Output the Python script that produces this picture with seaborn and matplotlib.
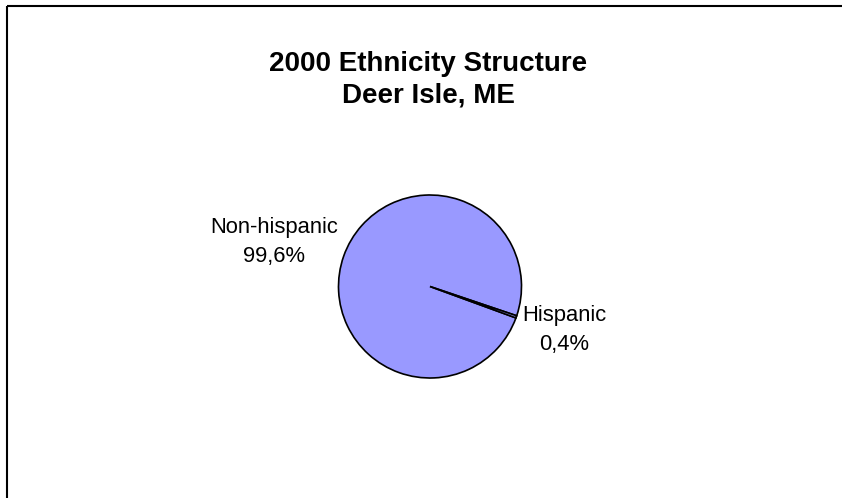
import matplotlib
matplotlib.use("Agg")
import matplotlib.pyplot as plt
from matplotlib.lines import Line2D
import seaborn as sns

# Data
categories = ["Non-hispanic", "Hispanic"]
shares = [99.6, 0.4]
value_labels = ["99,6%", "0,4%"]
title_lines = ["2000 Ethnicity Structure", "Deer Isle, ME"]

sns.set_theme(style="white")
plt.rcParams["font.family"] = ["Liberation Sans", "DejaVu Sans"]

W, H = 842, 498
fig = plt.figure(figsize=(W / 100, H / 100), dpi=100)
fig.patch.set_facecolor("white")

# pie axes placed in pixels
cx, cy, r = 430, 286.5, 91.5
ax = fig.add_axes([(cx - r) / W, (H - cy - r) / H, 2 * r / W, 2 * r / H])
colors = ["#9999FF", "#9999FF"]
wedges, texts = ax.pie(
    shares,
    labels=[f"{c}\n{v}" for c, v in zip(categories, value_labels)],
    colors=colors,
    startangle=-20.1,
    counterclock=False,
    radius=1.0,
    wedgeprops=dict(edgecolor="black", linewidth=1.2),
    textprops=dict(fontsize=15.8, color="black", linespacing=1.5),
)
ax.set_xlim(-1.0, 1.0)
ax.set_ylim(-1.0, 1.0)
ax.set_aspect("equal")
ax.axis("off")

# label positions (in pie-radius units)
label_pos = [(-1.705, 0.486), (1.464, -0.475)]
for t, (x, y) in zip(texts, label_pos):
    t.set_position((x, y))
    t.set_ha("center")
    t.set_va("center")
    t.set_clip_on(False)

# title
fig.text(428.5 / W, 1 - 79.5 / H, "\n".join(title_lines), ha="center", va="center",
         fontsize=20, fontweight="bold", color="black", linespacing=1.28)

# chart frame (top and left borders)
lw = 1.5
fig.add_artist(Line2D([7 / W, 1.0], [1 - 6 / H, 1 - 6 / H], color="black", linewidth=lw,
                      transform=fig.transFigure, solid_capstyle="butt"))
fig.add_artist(Line2D([7 / W, 7 / W], [1 - 6 / H, 0.0], color="black", linewidth=lw,
                      transform=fig.transFigure, solid_capstyle="butt"))

fig.savefig("out.png", dpi=100, facecolor="white")
